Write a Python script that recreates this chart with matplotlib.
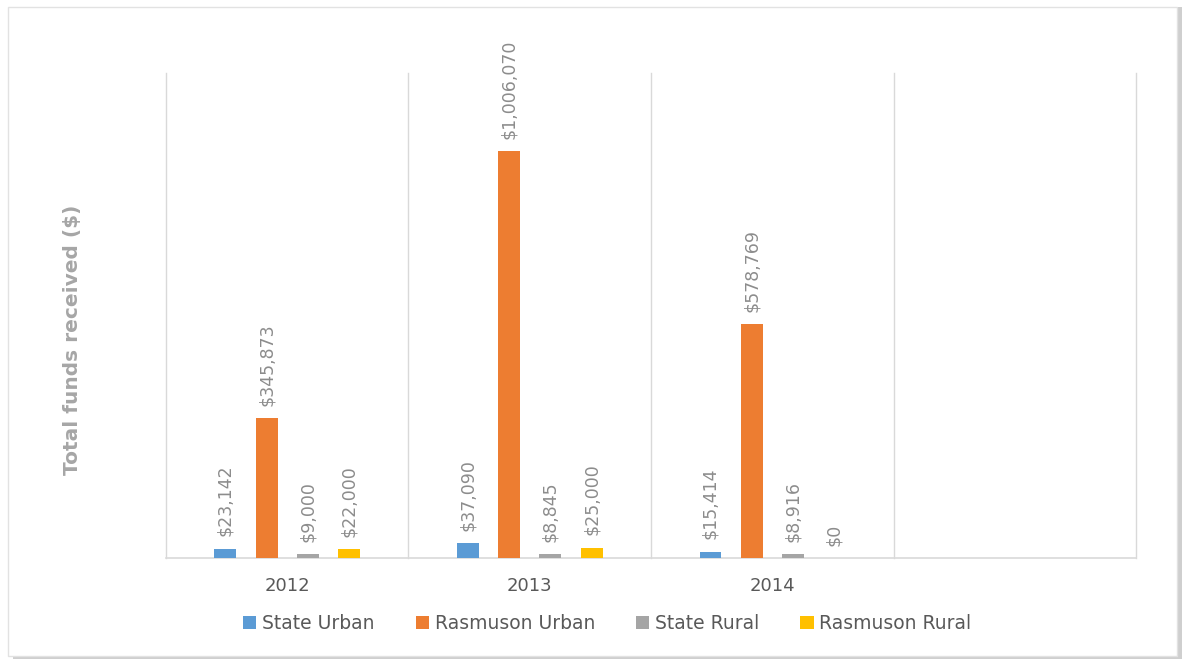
from matplotlib import pyplot as plt
from matplotlib.patches import Rectangle
import numpy as np

years = ['2012', '2013', '2014', '']
series = ['State Urban', 'Rasmuson Urban', 'State Rural', 'Rasmuson Rural']
state_urban = [23142, 37090, 15414, np.nan]
rasmuson_urban = [345873, 1006070, 578769, np.nan]
state_rural = [9000, 8845, 8916, np.nan]
rasmuson_rural = [22000, 25000, 0, np.nan]

colores = ['#5B9BD5', '#ED7D31', '#A5A5A5', '#FFC000']
gris_texto = '#8C8C8C'

fig = plt.figure(figsize=(11.83, 6.61), dpi=100)

# marco con sombra tipo Excel
fig.patches.append(Rectangle((0.011, 0.003), 0.988, 0.987, transform=fig.transFigure,
                             facecolor='#CFCFCF', edgecolor='none', zorder=0))
fig.patches.append(Rectangle((0.007, 0.008), 0.988, 0.982, transform=fig.transFigure,
                             facecolor='white', edgecolor='#E2E2E2', linewidth=1, zorder=1))

ax = fig.add_axes([0.1403, 0.1558, 0.82, 0.7338])
ax.set_zorder(2)
ax.patch.set_alpha(0)

x = np.arange(len(years))
paso = 0.17
ancho = 0.09
datos = [state_urban, rasmuson_urban, state_rural, rasmuson_rural]
for k, (nombre, vals, c) in enumerate(zip(series, datos, colores)):
    pos = x + (k - 1.5) * paso
    ax.bar(pos, vals, width=ancho, color=c, label=nombre, zorder=3)
    for xi, v in zip(pos, vals):
        if np.isnan(v):
            continue
        ax.annotate(f'${v:,.0f}', (xi, v), xytext=(0, 9), textcoords='offset points',
                    rotation=90, ha='center', va='bottom', fontsize=12.5,
                    color=gris_texto, annotation_clip=False)

ax.set_xlim(-0.5, 3.5)
ax.set_ylim(0, 1200000)
ax.set_xticks(x)
ax.set_xticklabels(years, fontsize=13, color='#595959')
ax.tick_params(axis='x', which='both', length=0, pad=14)
ax.set_yticks([])
for b in np.arange(-0.5, 4, 1):
    ax.axvline(b, color='#D9D9D9', linewidth=1, zorder=0, clip_on=False)
for lado in ['top', 'left', 'right']:
    ax.spines[lado].set_visible(False)
ax.spines['bottom'].set_color('#D9D9D9')
ax.spines['bottom'].set_linewidth(1.2)

ax.set_ylabel('Total funds received ($)', fontsize=14.5, fontweight='bold',
              color='#A6A6A6')
ax.yaxis.set_label_coords(-0.087, 0.45)

ax.legend(loc='center', bbox_to_anchor=(0.455, -0.135), ncol=4, frameon=False,
          fontsize=13.5, labelcolor='#595959', handlelength=0.7, handleheight=0.7,
          handletextpad=0.3, columnspacing=2.2)

plt.savefig('out.png', dpi=100)
